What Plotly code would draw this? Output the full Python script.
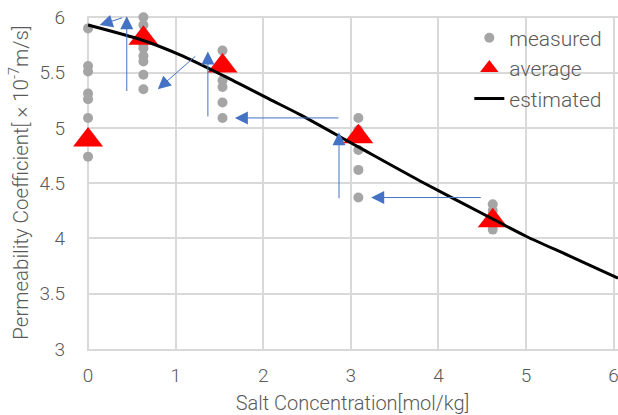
import plotly.graph_objects as go

# measured data (salt concentration [mol/kg], permeability [x1e-7 m/s])
meas_x0 = [0, 0, 0, 0, 0, 0, 0]
meas_y0 = [5.90, 5.56, 5.51, 5.31, 5.26, 5.09, 4.74]
meas_x1 = [0.632] * 8
meas_y1 = [6.00, 5.93, 5.75, 5.72, 5.65, 5.60, 5.48, 5.35]
meas_x2 = [1.535] * 6
meas_y2 = [5.70, 5.60, 5.43, 5.37, 5.23, 5.09]
meas_x3 = [3.086] * 6
meas_y3 = [5.09, 4.98, 4.92, 4.80, 4.62, 4.37]
meas_x4 = [4.62] * 5
meas_y4 = [4.31, 4.25, 4.20, 4.13, 4.08]

avg_x = [0, 0.632, 1.535, 3.086, 4.62]
avg_y = [4.89, 5.81, 5.56, 4.92, 4.16]

est_x = [0, 0.63, 1.05, 1.55, 2.07, 2.42, 3.08, 3.79, 4.61, 5.0, 5.5, 6.05]
est_y = [5.93, 5.79, 5.66, 5.47, 5.26, 5.12, 4.83, 4.52, 4.18, 4.02, 3.84, 3.64]

# blue arrows: (tail_x, tail_y, head_x, head_y) in data units
arrows_tail_x = [-0.186, 0.408, 0.442, 1.242, 1.368, 2.876, 2.865, 4.50]
arrows_tail_y = [5.925, 6.00, 5.32, 5.66, 5.09, 5.09, 4.35, 4.37]
arrows_head_x = [-0.186, 0.133, 0.442, 0.796, 1.368, 1.676, 2.865, 3.232]
arrows_head_y = [5.085, 5.93, 6.01, 5.35, 5.69, 5.09, 4.96, 4.37]

mx = meas_x0 + meas_x1 + meas_x2 + meas_x3 + meas_x4
my = meas_y0 + meas_y1 + meas_y2 + meas_y3 + meas_y4

FONT = "Roboto"
TXT = "#595959"
GRID = "#D9D9D9"

fig = go.Figure()
fig.add_trace(go.Scatter(x=mx, y=my, mode="markers", name="measured",
                         marker=dict(color="#A5A5A5", size=10), cliponaxis=False))
fig.add_trace(go.Scatter(x=avg_x, y=avg_y, mode="markers", name="average",
                         marker=dict(color="#FF0000", size=26, symbol="triangle-up"),
                         cliponaxis=False))
fig.add_trace(go.Scatter(x=est_x, y=est_y, mode="lines", name="estimated",
                         line=dict(color="black", width=3, shape="spline", smoothing=0.8),
                         cliponaxis=False))

for tx, ty, hx, hy in zip(arrows_tail_x, arrows_tail_y, arrows_head_x, arrows_head_y):
    fig.add_annotation(x=hx, y=hy, ax=tx, ay=ty, xref="x", yref="y", axref="x", ayref="y",
                       text="", showarrow=True, arrowhead=2, arrowsize=2.6,
                       arrowwidth=1, arrowcolor="#4472C4", standoff=0)

fig.update_layout(
    width=618, height=415,
    margin=dict(l=87, r=0, t=16, b=66),
    paper_bgcolor="white", plot_bgcolor="white",
    font=dict(family=FONT, color=TXT, size=19, weight=300),
    showlegend=True,
    legend=dict(x=0.72, xanchor="left", y=0.995, yanchor="top",
                bgcolor="rgba(0,0,0,0)", font=dict(size=21, color=TXT),
                itemsizing="trace", tracegroupgap=0),
    xaxis=dict(range=[-0.012, 6.05], tickvals=[0, 1, 2, 3, 4, 5, 6], showgrid=True,
               gridcolor=GRID, gridwidth=1.5, zeroline=False, showline=True,
               linecolor=GRID, linewidth=1.5, ticks="", ticklabelstandoff=8,
               ticklabeloverflow="allow", automargin=False,
               title=dict(text="Salt Concentration[mol/kg]", standoff=10,
                          font=dict(size=20, color=TXT))),
    yaxis=dict(range=[3, 6.012], tickvals=[3, 3.5, 4, 4.5, 5, 5.5, 6], showgrid=True,
               gridcolor=GRID, gridwidth=1.5, zeroline=False, showline=False,
               ticks="", ticklabelstandoff=21, ticklabeloverflow="allow", automargin=False,
               title=dict(text="Permeability Coefficient[ × 10<sup>-7</sup>m/s]", standoff=5,
                          font=dict(size=20.5, color=TXT))),
)

fig.write_html("out.html", config={"displayModeBar": False},
               post_script="document.body.style.margin='0';document.body.style.overflow='hidden';")
